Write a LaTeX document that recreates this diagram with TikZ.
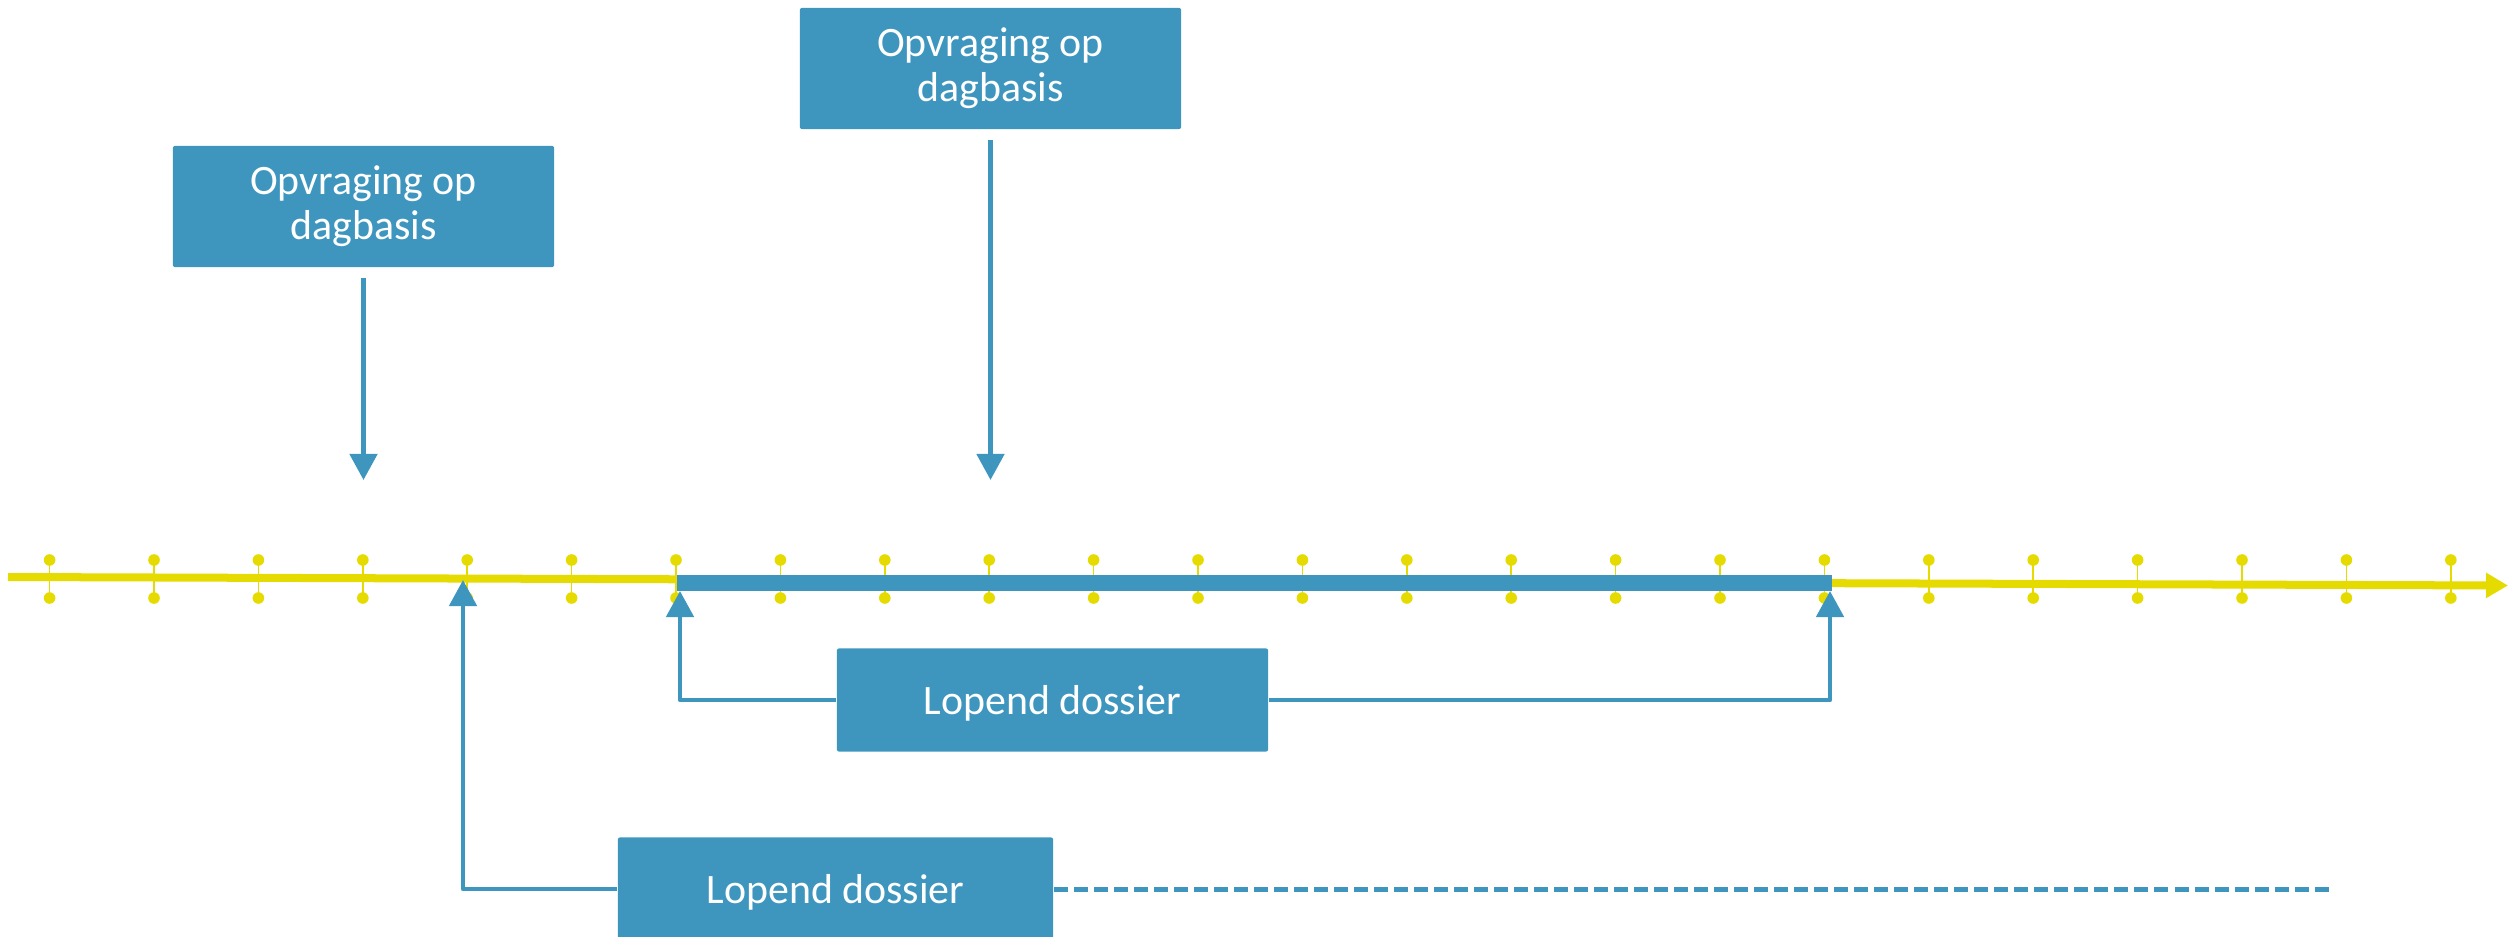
\documentclass[tikz,border=0pt]{standalone}
\usepackage{fontspec}
\setmainfont{Carlito}
\usepackage{tikz}
\usetikzlibrary{arrows.meta}
\definecolor{tlblue}{RGB}{62,150,191}
\definecolor{tlyellow}{RGB}{229,219,0}
\tikzset{
  box/.style={rectangle, fill=tlblue, rounded corners=0.02cm, text=white, align=center, inner sep=0pt,
    minimum height=1.21cm, font=\fontsize{11.9}{12.8}\selectfont},
  conn/.style={draw=tlblue, line width=0.047cm, line join=round, -{Triangle[length=0.26cm,width=0.27cm]}},
  openconn/.style={draw=tlblue, line width=0.05cm, dash pattern=on 0.14cm off 0.06cm}
}
\newcommand{\tltick}[1] {\draw [tlyellow, line width=0.015cm] (#1,560) -- (#1,598); \fill [tlyellow] (#1,560) circle [radius=0.058cm]; \fill [tlyellow] (#1,598) circle [radius=0.058cm];}
\newcommand{\tlbox}[4] {\node at (#1) (#2) [box, minimum width=#3] {#4};}
\newcommand{\tlrun}[3] {\draw [conn] (#1) -| (#2);}

\begin{document}
\begin{tikzpicture}[x=0.01cm, y=-0.01cm]
\useasboundingbox (0,0) rectangle (2510,937);

\foreach \i in {0,...,23} {\tltick{49.6+104.4*\i}};

\coordinate (tlstart) at (8,577);
\coordinate (tlend) at (2508,585.5);
\draw [tlyellow, line width=0.08cm, -{Triangle[length=0.22cm,width=0.24cm]}] (tlstart) -- (tlend);

\coordinate (runa) at (677,583);
\coordinate (runb) at (1832,583);
\draw [tlblue, line width=0.155cm] (runa) -- (runb);

\tlbox {363.5,206.5} {qa} {3.81cm} {Opvraging op\\dagbasis};
\tlbox {990.5,68.5} {qb} {3.81cm} {Opvraging op\\dagbasis};
\node at (1052.5,700) (lda) [box, minimum width=4.31cm, minimum height=1.03cm, text depth=0pt] {Lopend dossier};
\node at (835.5,889) (ldb) [box, minimum width=4.35cm, minimum height=1.03cm, text depth=0pt] {Lopend dossier};

\coordinate (qaend) at (363.5,480);
\coordinate (qbend) at (990.5,480);
\draw [conn, shorten <=0.1cm] (qa.south) -- (qaend);
\draw [conn, shorten <=0.1cm] (qb.south) -- (qbend);

\coordinate (ldastart) at (680,591);
\coordinate (ldastop) at (1830,591);
\coordinate (ldbstart) at (463,580);
\coordinate (ldbopen) at (2334,889);
\tlrun{lda.west}{ldastart}{};
\tlrun{lda.east}{ldastop}{};
\tlrun{ldb.west}{ldbstart}{};
\draw [openconn] (ldb.east) -- (ldbopen);
\end{tikzpicture}
\end{document}
